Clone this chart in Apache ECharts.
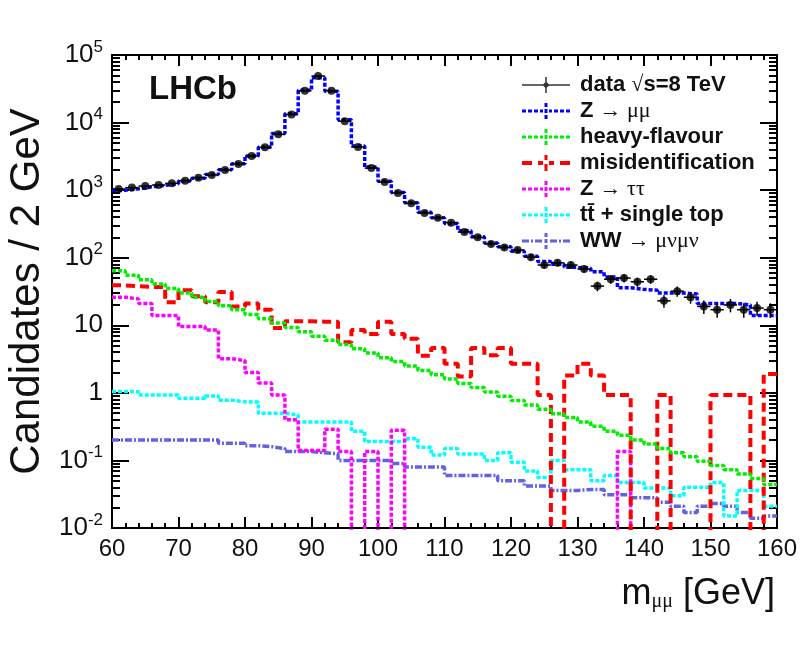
<!DOCTYPE html>
<html><head><meta charset="utf-8">
<script src="https://cdn.jsdelivr.net/npm/echarts@6/dist/echarts.min.js"></script>
<style>html,body{margin:0;padding:0;background:#fff}#c{width:806px;height:654px}</style>
</head><body><div id="c"></div>
<script>
// ---- data (2 GeV bins) ----
const binCentres = [61,63,65,67,69,71,73,75,77,79,81,83,85,87,89,91,93,95,97,99,101,103,105,107,109,111,113,115,117,119,121,123,125,127,129,131,133,135,137,139,141,143,145,147,149,151,153,155,157,159];
const BIN_WIDTH = 2;
const xTickLabels = [60,70,80,90,100,110,120,130,140,150,160];
const yTickValues = [0.01,0.1,1,10,100,1000,10000,100000];

const dataCounts = [1040,1090,1150,1190,1260,1380,1530,1680,1990,2440,3200,4300,6700,13200,29600,48900,29600,10500,4360,2120,1320,910,640,460,390,330,240,200,160,142,130,102,78,84,78,68,38,48,50,44,48,23,32,26,19,17,20,17,18,17];
const zMuMu = [1000,1050,1120,1180,1250,1370,1500,1700,2000,2450,3200,4300,6900,13500,30000,46000,29000,11000,4500,2200,1350,920,650,470,390,320,250,205,165,145,125,105,88,80,72,70,62,52,36,34,33,30,30,29,21,21,21,20,14,14];
const heavyFlavour = [64,55,47,41,35,30,26,22.5,19.5,17,14.5,12.5,10.8,9.3,8.0,6.9,6.0,5.2,4.5,3.9,3.3,2.9,2.5,2.15,1.85,1.6,1.38,1.2,1.03,0.89,0.77,0.66,0.57,0.49,0.43,0.37,0.32,0.27,0.235,0.2,0.175,0.15,0.13,0.113,0.097,0.084,0.073,0.063,0.054,0.044];
const misId = [39,38,37,37,22,33,27,22,31,19,21,17,9.1,11.5,11.5,11.3,11.3,5.6,8.5,7.4,11.3,7.4,6.3,3.55,4.6,2.7,1.74,4.6,3.6,4.6,2.7,2.7,0.93,0,1.8,2.7,1.8,0.93,0.93,0,0,0.93,0,0,0,0.93,0.93,0.93,0,1.9];
const zTauTau = [26,24.5,21,14,14,9.6,9.6,8.5,3.2,3.0,2.0,1.4,0.93,0.4,0.14,0.14,0.29,0.135,0,0.135,0,0.28,0,0,0,0,0,0,0,0,0,0,0,0,0,0,0,0,0.135,0,0,0,0,0,0,0,0,0,0,0];
const ttbarTop = [1.05,1.04,0.93,0.93,0.93,0.83,0.83,0.9,0.78,0.74,0.73,0.5,0.5,0.47,0.37,0.37,0.37,0.37,0.27,0.19,0.19,0.19,0.21,0.157,0.12,0.15,0.125,0.125,0.1,0.13,0.094,0.07,0.056,0.1,0.073,0.073,0.05,0.06,0.047,0.047,0.039,0.039,0.03,0.04,0.04,0.047,0.015,0.036,0.036,0.021];
const wwMuNuMuNu = [0.2,0.2,0.2,0.2,0.2,0.2,0.2,0.2,0.18,0.18,0.165,0.16,0.15,0.135,0.135,0.13,0.125,0.1,0.1,0.1,0.1,0.09,0.08,0.08,0.08,0.06,0.06,0.06,0.06,0.05,0.05,0.042,0.042,0.036,0.036,0.037,0.037,0.031,0.031,0.028,0.028,0.024,0.021,0.017,0.021,0.023,0.021,0.017,0.014,0.015];

const NAMES = {
  data: 'data √s=8 TeV', z: 'Z → μμ', hf: 'heavy-flavour', mis: 'misidentification',
  ztt: 'Z → ττ', tt: 'tt̄ + single top', ww: 'WW → μνμν'
};
const COLORS = { data:'#000000', z:'#0000ff', hf:'#00ee00', mis:'#ff0000', ztt:'#ff00ff', tt:'#00ffff', ww:'#6262e2' };

// ---- helpers ----
const LOG_FLOOR = 1e-4; // empty bins drop below the axis
function histSteps(vals) {
  const pts = binCentres.map((c, i) => [c - BIN_WIDTH / 2, vals[i] > 0 ? vals[i] : LOG_FLOOR]);
  const last = vals.length - 1;
  pts.push([binCentres[last] + BIN_WIDTH / 2, vals[last] > 0 ? vals[last] : LOG_FLOOR]);
  return pts;
}
function histSeries(key, vals, dash, width, z) {
  return {
    name: NAMES[key], type: 'line', step: 'end', data: histSteps(vals), symbol: 'none',
    xAxisIndex: 0, yAxisIndex: 0, clip: true, z: z,
    lineStyle: { color: COLORS[key], width: width, type: dash, cap: 'butt' },
    itemStyle: { color: COLORS[key] }
  };
}
function segPath(hsegs, hy0, hy1, vsegs, vx0, vx1) {
  let p = 'path://';
  hsegs.forEach(s => { p += `M${s[0]},${hy0}L${s[1]},${hy0}L${s[1]},${hy1}L${s[0]},${hy1}Z `; });
  vsegs.forEach(s => { p += `M${vx0},${s[0]}L${vx1},${s[0]}L${vx1},${s[1]}L${vx0},${s[1]}Z `; });
  return p.trim();
}
const ICON_DATA = 'path://M0,7.25L48,7.25L48,8.75L0,8.75Z M23.25,0L24.75,0L24.75,16L23.25,16Z M24,4.5L27.5,8L24,11.5L20.5,8Z';
const ICON_DOT = segPath([[0,4],[6,10],[12,16],[18,21],[27,30],[32,36],[38,42],[44,48]], 6.5, 9.5, [[0,4],[6,10],[12,16]], 22.5, 25.5);
const ICON_DASH = segPath([[0,10],[16,21],[27,32],[38,48]], 6, 10, [[0,5],[9,16]], 22.5, 25.5);
const ICON_DASHDOT = segPath([[0,7],[9,11],[13,20],[28,35],[37,39],[41,48]], 6.5, 9.5, [[0,4],[6,10],[12,16]], 22.5, 25.5);

const LEGEND_TEXT = {};
LEGEND_TEXT[NAMES.data] = '{sp|}{b|data }{g|√}{b|s=8 TeV}';
LEGEND_TEXT[NAMES.z] = '{sp|}{b|Z }{g|→ μμ}';
LEGEND_TEXT[NAMES.hf] = '{sp|}{b|heavy-flavour}';
LEGEND_TEXT[NAMES.mis] = '{sp|}{b|misidentification}';
LEGEND_TEXT[NAMES.ztt] = '{sp|}{b|Z }{g|→ ττ}';
LEGEND_TEXT[NAMES.tt] = '{sp|}{b|tt̄ + single top}';
LEGEND_TEXT[NAMES.ww] = '{sp|}{b|WW }{g|→ μνμν}';

function yLabel(v) {
  const e = Math.round(Math.log10(v));
  if (e === 0) return '{n|1}';
  if (e === 1) return '{n|10}';
  return '{n|10}{s|' + e + '}';
}
const minorLogTicks = [];
for (let d = -2; d < 5; d++) for (let k = 2; k <= 9; k++) minorLogTicks.push(d + Math.log10(k));

const FONT = 'Liberation Sans';
const TXT = '#111';
const frameLine = { show: true, onZero: false, lineStyle: { color: '#000', width: 2 } };
const noLine = { show: false, onZero: false };

const chart = echarts.init(document.getElementById('c'), null, { renderer: 'canvas' });
chart.setOption({
  animation: false,
  backgroundColor: '#fff',
  textStyle: { fontFamily: FONT },
  title: { text: 'LHCb', left: 144, top: 68, textStyle: { fontFamily: FONT, fontWeight: 'bold', fontSize: 33, color: '#111' } },
  grid: { left: 112, right: 29, top: 55, bottom: 126, containLabel: false, outerBoundsMode: 'none' },
  legend: {
    orient: 'vertical', left: 517, top: 69, itemWidth: 48, itemHeight: 16, itemGap: 4,
    selectedMode: false, icon: 'rect',
    itemStyle: { borderWidth: 0 },
    data: [
      { name: NAMES.data, icon: ICON_DATA, itemStyle: { color: COLORS.data, borderWidth: 0 } },
      { name: NAMES.z, icon: ICON_DOT, itemStyle: { color: COLORS.z, borderWidth: 0 } },
      { name: NAMES.hf, icon: ICON_DOT, itemStyle: { color: COLORS.hf, borderWidth: 0 } },
      { name: NAMES.mis, icon: ICON_DASH, itemStyle: { color: COLORS.mis, borderWidth: 0 } },
      { name: NAMES.ztt, icon: ICON_DOT, itemStyle: { color: COLORS.ztt, borderWidth: 0 } },
      { name: NAMES.tt, icon: ICON_DOT, itemStyle: { color: COLORS.tt, borderWidth: 0 } },
      { name: NAMES.ww, icon: ICON_DASHDOT, itemStyle: { color: COLORS.ww, borderWidth: 0 } }
    ],
    formatter: n => LEGEND_TEXT[n],
    textStyle: {
      color: '#111',
      rich: {
        sp: { width: 5 },
        b: { fontFamily: FONT, fontWeight: 'bold', fontSize: 22, lineHeight: 22, color: '#111' },
        g: { fontFamily: 'Liberation Serif', fontSize: 22, lineHeight: 22, color: '#111' }
      }
    }
  },
  xAxis: [
    {
      type: 'value', min: 60, max: 160, interval: 10, position: 'bottom',
      axisLine: frameLine, splitLine: { show: false },
      axisTick: { show: true, inside: true, length: 11, lineStyle: { color: '#000', width: 2 } },
      minorTick: { show: true, splitNumber: 5, length: 5, lineStyle: { color: '#000', width: 2 } },
      axisLabel: { show: true, fontSize: 24, color: TXT, margin: 9, fontFamily: FONT,
        customValues: xTickLabels, formatter: v => String(v) },
      name: '{m|m}{u|μμ}{m| [GeV]}', nameLocation: 'end', nameGap: -2,
      nameTextStyle: { align: 'right', verticalAlign: 'top', padding: [48, 0, 0, 0],
        rich: { m: { fontFamily: FONT, fontSize: 36, color: TXT }, u: { fontFamily: 'Liberation Serif', fontSize: 20, color: TXT, padding: [16, 0, 0, 0] } } }
    },
    {
      type: 'value', min: 60, max: 160, interval: 10, position: 'top',
      axisLine: frameLine, splitLine: { show: false }, axisLabel: { show: false },
      axisTick: { show: true, inside: true, length: 11, lineStyle: { color: '#000', width: 2 } },
      minorTick: { show: true, splitNumber: 5, length: 5, lineStyle: { color: '#000', width: 2 } }
    }
  ],
  yAxis: [
    {
      type: 'log', logBase: 10, min: 0.01, max: 100000, position: 'left',
      axisLine: frameLine, splitLine: { show: false },
      axisTick: { show: true, inside: true, length: 17, customValues: yTickValues, lineStyle: { color: '#000', width: 2 } },
      axisLabel: { show: true, margin: 9, customValues: yTickValues, formatter: yLabel,
        rich: { n: { fontFamily: FONT, fontSize: 26, color: TXT }, s: { fontFamily: FONT, fontSize: 17, color: TXT, padding: [0, 0, 16, 0] } } },
      name: 'Candidates / 2 GeV', nameLocation: 'middle', nameGap: 62, nameRotate: 90,
      nameTextStyle: { fontFamily: FONT, fontSize: 42, color: TXT }
    },
    {
      type: 'value', min: -2, max: 5, position: 'left', show: true,
      axisLine: noLine, splitLine: { show: false }, axisLabel: { show: false },
      axisTick: { show: true, inside: true, length: 8, customValues: minorLogTicks, lineStyle: { color: '#000', width: 2 } }
    },
    {
      type: 'log', logBase: 10, min: 0.01, max: 100000, position: 'right',
      axisLine: frameLine, splitLine: { show: false }, axisLabel: { show: false },
      axisTick: { show: true, inside: true, length: 17, customValues: yTickValues, lineStyle: { color: '#000', width: 2 } }
    },
    {
      type: 'value', min: -2, max: 5, position: 'right', show: true,
      axisLine: noLine, splitLine: { show: false }, axisLabel: { show: false },
      axisTick: { show: true, inside: true, length: 8, customValues: minorLogTicks, lineStyle: { color: '#000', width: 2 } }
    }
  ],
  series: [
    histSeries('ww', wwMuNuMuNu, [7, 2, 2, 2], 3.5, 2),
    histSeries('tt', ttbarTop, [4, 2], 3.5, 3),
    histSeries('ztt', zTauTau, [4, 2], 3.5, 4),
    histSeries('mis', misId, [9, 5], 4, 5),
    histSeries('hf', heavyFlavour, [4, 2], 3.5, 6),
    histSeries('z', zMuMu, [4, 2], 3.5, 7),
    {
      name: 'dataErrors', type: 'custom', xAxisIndex: 0, yAxisIndex: 0, z: 9, clip: true,
      data: binCentres.map((c, i) => [c, dataCounts[i], Math.sqrt(dataCounts[i])]),
      encode: { x: 0, y: 1 },
      renderItem: (params, api) => {
        const x = api.value(0), y = api.value(1), e = api.value(2);
        const l = api.coord([x - BIN_WIDTH / 2, y]), r = api.coord([x + BIN_WIDTH / 2, y]);
        const t = api.coord([x, y + e]), b = api.coord([x, Math.max(y - e, 1e-3)]);
        const st = { stroke: '#000', lineWidth: 1.5 };
        return { type: 'group', children: [
          { type: 'line', shape: { x1: l[0], y1: l[1], x2: r[0], y2: r[1] }, style: st },
          { type: 'line', shape: { x1: t[0], y1: t[1], x2: b[0], y2: b[1] }, style: st }
        ] };
      }
    },
    {
      name: NAMES.data, type: 'scatter', xAxisIndex: 0, yAxisIndex: 0, z: 10,
      symbol: 'circle', symbolSize: 8, itemStyle: { color: '#000' },
      data: binCentres.map((c, i) => [c, dataCounts[i]])
    }
  ]
});
</script>
</body></html>
